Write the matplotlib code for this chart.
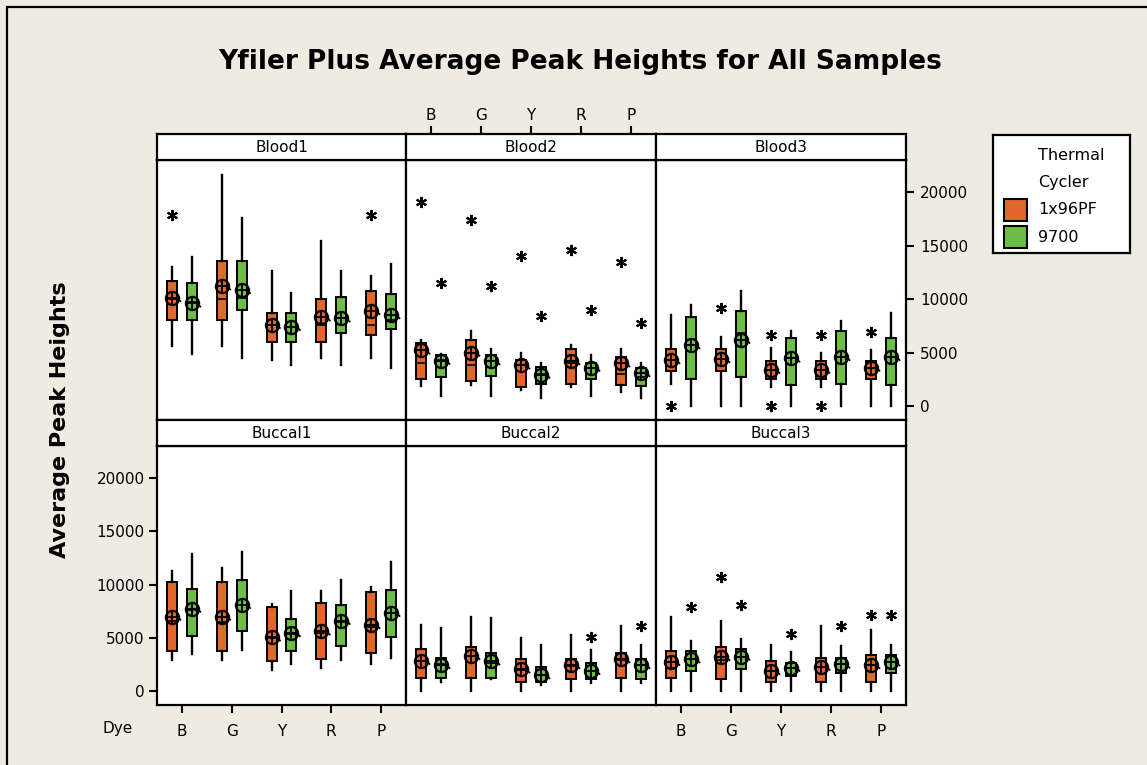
import numpy as np
import matplotlib.pyplot as plt
from matplotlib.patches import Rectangle

dyes = ['B', 'G', 'Y', 'R', 'P']
cyclers = ['1x96PF', '9700']
cycler_colors = ['#E2672A', '#6DBE45']
panels = ['Blood1', 'Blood2', 'Blood3', 'Buccal1', 'Buccal2', 'Buccal3']
y_ticks = [0, 5000, 10000, 15000, 20000]

# values in thousands, each entry is (1x96PF, 9700) over the dyes B G Y R P
whisker_hi = {
  'Blood1': ([13.0, 21.6, 12.6, 15.4, 12.2], [13.95, 17.6, 10.6, 12.6, 13.3]),
  'Blood2': ([6.2, 7.0, 5.0, 5.7, 5.3], [4.9, 5.3, 4.0, 4.75, 4.05]),
  'Blood3': ([8.55, 6.5, 5.4, 5.0, 5.2], [9.45, 10.75, 7.05, 7.95, 8.7]),
  'Buccal1': ([11.3, 11.55, 8.15, 9.35, 9.8], [12.9, 13.05, 9.35, 10.45, 12.1]),
  'Buccal2': ([6.2, 7.0, 5.0, 5.3, 6.1], [5.9, 6.85, 4.35, 3.85, 4.35]),
  'Buccal3': ([7.0, 6.6, 4.35, 6.1, 5.7], [4.75, 4.9, 3.65, 4.2, 4.35]),
}
upper_quartile = {
  'Blood1': ([11.7, 13.55, 8.7, 10.0, 10.75], [11.5, 13.55, 8.7, 10.2, 10.5]),
  'Blood2': ([5.9, 6.2, 4.35, 5.3, 4.55], [4.75, 4.75, 3.65, 4.05, 3.6]),
  'Blood3': ([5.35, 5.35, 4.2, 4.2, 4.2], [8.3, 8.9, 6.4, 7.0, 6.4]),
  'Buccal1': ([10.2, 10.2, 7.9, 8.3, 9.3], [9.6, 10.4, 6.8, 8.05, 9.45]),
  'Buccal2': ([3.95, 4.1, 3.0, 3.0, 3.6], [3.15, 3.6, 2.3, 2.65, 3.0]),
  'Buccal3': ([3.8, 4.1, 2.8, 3.15, 3.4], [3.75, 3.95, 2.65, 3.15, 3.4]),
}
median = {
  'Blood1': ([10.0, 10.0, 7.6, 7.6, 7.6], [9.7, 10.1, 7.4, 8.2, 8.0]),
  'Blood2': ([4.0, 3.8, 3.8, 4.0, 3.0], [4.3, 4.2, 3.0, 3.6, 2.75]),
  'Blood3': ([4.3, 4.4, 3.4, 3.4, 3.6], [5.7, 6.85, 4.45, 4.6, 4.6]),
  'Buccal1': ([6.6, 6.5, 5.0, 5.5, 6.0], [7.6, 8.1, 5.4, 6.5, 7.3]),
  'Buccal2': ([2.8, 3.3, 2.0, 2.4, 2.9], [2.5, 2.6, 1.5, 1.9, 2.45]),
  'Buccal3': ([2.2, 2.95, 1.9, 2.3, 2.45], [3.0, 3.25, 2.2, 2.5, 2.7]),
}
lower_quartile = {
  'Blood1': ([8.0, 8.0, 6.0, 6.0, 6.6], [8.0, 9.0, 6.0, 6.85, 7.2]),
  'Blood2': ([2.5, 2.35, 1.75, 2.1, 1.95], [2.7, 2.85, 2.1, 2.5, 1.9]),
  'Blood3': ([3.25, 3.3, 2.5, 2.5, 2.5], [2.5, 2.7, 1.95, 2.1, 1.95]),
  'Buccal1': ([3.8, 3.75, 2.8, 3.0, 3.6], [5.2, 5.6, 3.75, 4.25, 5.05]),
  'Buccal2': ([1.25, 1.25, 0.9, 1.1, 1.25], [1.25, 1.25, 0.9, 1.1, 1.1]),
  'Buccal3': ([1.25, 1.1, 0.9, 0.9, 0.9], [1.85, 2.05, 1.4, 1.7, 1.7]),
}
whisker_lo = {
  'Blood1': ([5.6, 5.6, 4.3, 4.5, 4.5], [4.9, 4.45, 3.8, 3.8, 3.6]),
  'Blood2': ([1.9, 1.95, 1.55, 1.75, 1.35], [0.95, 0.95, 0.8, 0.95, 0.8]),
  'Blood3': ([2.1, 0.0, 1.75, 1.75, 0.0], [0.0, 0.0, 0.0, 0.0, 0.0]),
  'Buccal1': ([2.95, 2.95, 2.0, 2.2, 2.5], [3.5, 3.9, 2.55, 2.95, 3.1]),
  'Buccal2': ([0.0, 0.0, 0.0, 0.0, 0.0], [0.9, 1.1, 0.55, 0.75, 0.75]),
  'Buccal3': ([0.0, 0.0, 0.0, 0.0, 0.0], [0.0, 0.0, 0.0, 0.0, 0.0]),
}
mean = {
  'Blood1': ([10.1, 11.2, 7.6, 8.3, 8.9], [9.6, 10.85, 7.4, 8.2, 8.5]),
  'Blood2': ([5.2, 5.0, 3.8, 4.2, 4.0], [4.25, 4.2, 2.95, 3.6, 3.1]),
  'Blood3': ([4.3, 4.4, 3.4, 3.4, 3.6], [5.7, 6.2, 4.45, 4.6, 4.6]),
  'Buccal1': ([7.0, 7.0, 5.05, 5.6, 6.2], [7.75, 8.1, 5.45, 6.6, 7.35]),
  'Buccal2': ([2.85, 3.3, 2.05, 2.45, 3.0], [2.45, 2.8, 1.5, 1.9, 2.45]),
  'Buccal3': ([2.75, 3.2, 1.9, 2.3, 2.45], [3.0, 3.25, 2.2, 2.5, 2.7]),
}
outliers = {
  'Blood1': ([[17.9], [], [], [], [17.9]], [[], [], [], [], []]),
  'Blood2': ([[19.1], [17.4], [14.05], [14.6], [13.5]], [[11.5], [11.25], [8.45], [9.0], [7.75]]),
  'Blood3': ([[0.0], [9.2], [6.6, 0.0], [6.6, 0.0], [6.95]], [[], [], [], [], []]),
  'Buccal1': ([[], [], [], [], []], [[], [], [], [], []]),
  'Buccal2': ([[], [], [], [], []], [[], [], [], [5.05], [6.15]]),
  'Buccal3': ([[], [10.7], [], [], [7.1]], [[7.85], [8.05], [5.4], [6.15], [7.1]]),
}

W, H = 1147, 765
BG = '#EFEBE2'


def fig_rect(x0, y0, x1, y1):
  # pixel box -> figure fraction
  return [x0 / W, 1 - y1 / H, (x1 - x0) / W, (y1 - y0) / H]


def box_stats(panel, c):
  stats = []
  for i in range(len(dyes)):
    stats.append({
      'whishi': whisker_hi[panel][c][i] * 1000,
      'q3': upper_quartile[panel][c][i] * 1000,
      'med': median[panel][c][i] * 1000,
      'q1': lower_quartile[panel][c][i] * 1000,
      'whislo': whisker_lo[panel][c][i] * 1000,
      'mean': mean[panel][c][i] * 1000,
      'fliers': np.array(outliers[panel][c][i]) * 1000,
    })
  return stats


def draw_panel(ax, panel):
  x = np.arange(1, len(dyes) + 1)
  for c, offset in enumerate([-0.2, 0.2]):
    pos = x + offset
    ax.bxp(
      box_stats(panel, c),
      positions=pos,
      widths=0.2,
      patch_artist=True,
      showcaps=False,
      manage_ticks=False,
      boxprops={'facecolor': cycler_colors[c], 'edgecolor': 'black', 'linewidth': 1.4},
      whiskerprops={'color': 'black', 'linewidth': 1.7},
      medianprops={'color': 'black', 'linewidth': 1.2},
      flierprops={'marker': (6, 2, 0), 'markersize': 8, 'markeredgecolor': 'black',
                  'markeredgewidth': 1.5, 'linestyle': 'none'}
    )
    m = np.array(mean[panel][c]) * 1000
    ax.plot(pos, m, 'o', mfc='none', mec='black', ms=9.5, mew=1.6, zorder=4)
    ax.plot(pos, m, '+', color='black', ms=9.5, mew=1.4, zorder=4)
    for px, py in zip(pos, m):
      ax.plot([px + 0.11, px + 0.17], [py, py - 300], color='black', lw=1.2, zorder=4)
  ax.set_xlim(0.5, 5.5)
  ax.set_ylim(-1300, 23000)
  ax.set_xticks([])
  ax.set_yticks([])
  for s in ax.spines.values():
    s.set_linewidth(1.6)


plt.rcParams['font.family'] = ['DejaVu Sans']
fig = plt.figure(figsize=(W / 100, H / 100), dpi=100, facecolor=BG)

fig.add_artist(Rectangle((7 / W, -0.1), 1.2, 1 - 7 / H + 0.1, transform=fig.transFigure,
                         fill=False, edgecolor='black', linewidth=1.6))

col_x = [157, 406, 656, 906]
rows = [(134, 160, 420), (420, 446, 705)]
axes = {}
strips = {}
for k, panel in enumerate(panels):
  r, c = divmod(k, 3)
  top, mid, bottom = rows[r]
  ax = fig.add_axes(fig_rect(col_x[c], mid, col_x[c + 1], bottom), facecolor='white')
  draw_panel(ax, panel)
  sax = fig.add_axes(fig_rect(col_x[c], top, col_x[c + 1], mid), facecolor='white')
  sax.set_xlim(0.5, 5.5)
  sax.set_xticks([])
  sax.set_yticks([])
  for s in sax.spines.values():
    s.set_linewidth(1.6)
  sax.text(0.5, 0.5, panel, ha='center', va='center', fontsize=11, transform=sax.transAxes)
  axes[panel] = ax
  strips[panel] = sax

tick_kw = dict(length=6, width=1.5, labelsize=11, direction='out')

ax = axes['Buccal1']
ax.set_yticks(y_ticks)
ax.set_yticklabels([str(v) for v in y_ticks])
ax.tick_params(axis='y', left=True, labelleft=True, pad=3, **tick_kw)

ax = axes['Blood3']
ax.set_yticks(y_ticks)
ax.set_yticklabels([str(v) for v in y_ticks])
ax.tick_params(axis='y', left=False, labelleft=False, right=True, labelright=True, pad=4, **tick_kw)

for name in ['Buccal1', 'Buccal3']:
  ax = axes[name]
  ax.set_xticks(np.arange(1, 6))
  ax.set_xticklabels(dyes)
  ax.tick_params(axis='x', bottom=True, labelbottom=True, pad=8, **tick_kw)

sax = strips['Blood2']
sax.set_xticks(np.arange(1, 6))
sax.set_xticklabels(dyes)
sax.tick_params(axis='x', bottom=False, labelbottom=False, top=True, labeltop=True, pad=2, **tick_kw)

fig.text(580 / W, 1 - 62 / H, 'Yfiler Plus Average Peak Heights for All Samples',
         ha='center', va='center', fontsize=19, fontweight='bold')
fig.text(60 / W, 1 - 420 / H, 'Average Peak Heights', ha='center', va='center',
         rotation=90, fontsize=16, fontweight='bold')
fig.text(118 / W, 1 - 729 / H, 'Dye', ha='center', va='center', fontsize=11)

# legend panel
lax = fig.add_axes(fig_rect(993, 135, 1130, 253), facecolor='white')
lax.set_xlim(0, 137)
lax.set_ylim(118, 0)
lax.set_xticks([])
lax.set_yticks([])
for s in lax.spines.values():
  s.set_linewidth(1.6)
lax.text(45, 20, 'Thermal', ha='left', va='center', fontsize=11.5)
lax.text(45, 47, 'Cycler', ha='left', va='center', fontsize=11.5)
for i, name in enumerate(cyclers):
  yc = 75 + i * 27
  lax.add_patch(Rectangle((11, yc - 11), 23, 22, facecolor=cycler_colors[i],
                          edgecolor='black', linewidth=1.5))
  lax.text(45, yc, name, ha='left', va='center', fontsize=11.5)

fig.savefig('out.png', dpi=100, facecolor=BG)
